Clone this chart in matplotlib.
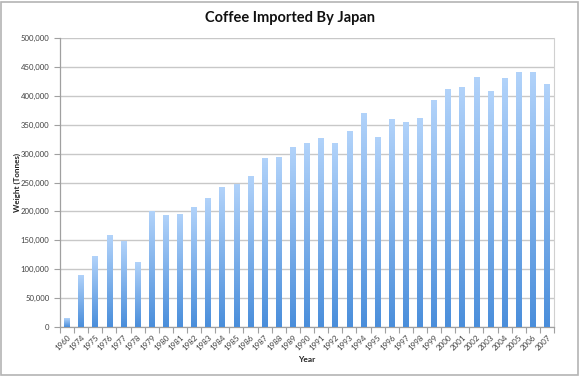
import numpy as np
import matplotlib
matplotlib.use('Agg')
from matplotlib import pyplot as plt
from matplotlib.colors import LinearSegmentedColormap
from matplotlib.patches import Rectangle
from matplotlib.ticker import FuncFormatter, MultipleLocator, FixedLocator

# data
years = ['1960'] + [str(y) for y in range(1974, 2008)]
tonnes = [
    15000, 90000, 122000, 159000, 148000, 112000, 200000, 194000, 196000, 208000,
    224000, 242000, 248000, 262000, 293000, 294000, 311000, 318000, 327000, 318000,
    339000, 371000, 329000, 359000, 354000, 361000, 392000, 412000, 415000, 432000,
    408000, 430000, 441000, 442000, 420000,
]

plt.rcParams['font.family'] = ['Lato', 'DejaVu Sans']

fig = plt.figure(figsize=(5.8, 3.76), dpi=100)
ax = fig.add_axes([60 / 580, 49 / 376, 494 / 580, 289 / 376])

# outer chart frame
fig.patches.append(Rectangle((1 / 580, 1 / 376), 577 / 580, 373 / 376,
                             transform=fig.transFigure, fill=False,
                             edgecolor='#b4b4b4', lw=1.2))

x = np.arange(len(years))
bars = ax.bar(x, tonnes, width=0.4, color='none', edgecolor='none', zorder=3)

# gradient fill, light at the top of each bar, darker at the bottom
cmap = LinearSegmentedColormap.from_list('bar', ['#4a8edb', '#b2d3fa'])
grad = np.linspace(0, 1, 256).reshape(-1, 1)
for b in bars:
    x0, y0, w, h = b.get_x(), b.get_y(), b.get_width(), b.get_height()
    im = ax.imshow(grad, extent=[x0, x0 + w, y0, y0 + h], origin='lower',
                   aspect='auto', cmap=cmap, zorder=3)
    im.set_clip_path(b)

ax.set_xlim(-0.5, len(years) - 0.5)
ax.set_ylim(0, 500000)

ax.yaxis.set_major_locator(MultipleLocator(50000))
ax.yaxis.set_major_formatter(FuncFormatter(lambda v, p: f'{int(v):,}'))
ax.grid(axis='y', color='#c8c8c8', lw=1, zorder=0)
ax.set_axisbelow(True)

ax.set_xticks(x)
ax.set_xticklabels(years, rotation=45, ha='right', rotation_mode='anchor')
ax.xaxis.set_minor_locator(FixedLocator(np.arange(-0.5, len(years), 1)))
ax.tick_params(axis='x', which='major', length=0, pad=5, labelsize=5.8, labelcolor='#404040')
ax.tick_params(axis='x', which='minor', length=4, color='#a0a0a0', width=0.8)
ax.tick_params(axis='y', length=4, color='#a0a0a0', width=0.8, labelsize=5.6, labelcolor='#404040', pad=3.5)

for side in ['left', 'bottom']:
    ax.spines[side].set_color('#a0a0a0')
    ax.spines[side].set_linewidth(0.9)
ax.spines['top'].set_visible(False)
ax.spines['right'].set_color('#d0d0d0')

fig.text(290 / 580, 1 - 18 / 376, 'Coffee Imported By Japan', ha='center', va='center',
         fontsize=10.5, fontweight='bold', color='#111111')
fig.text(17 / 580, 1 - 183 / 376, 'Weight (Tonnes)', ha='center', va='center',
         rotation=90, fontsize=5.8, fontweight='bold', color='#222222')
fig.text(307 / 580, 1 - 359 / 376, 'Year', ha='center', va='center',
         fontsize=6, fontweight='bold', color='#222222')

fig.savefig('out.png', dpi=100)
